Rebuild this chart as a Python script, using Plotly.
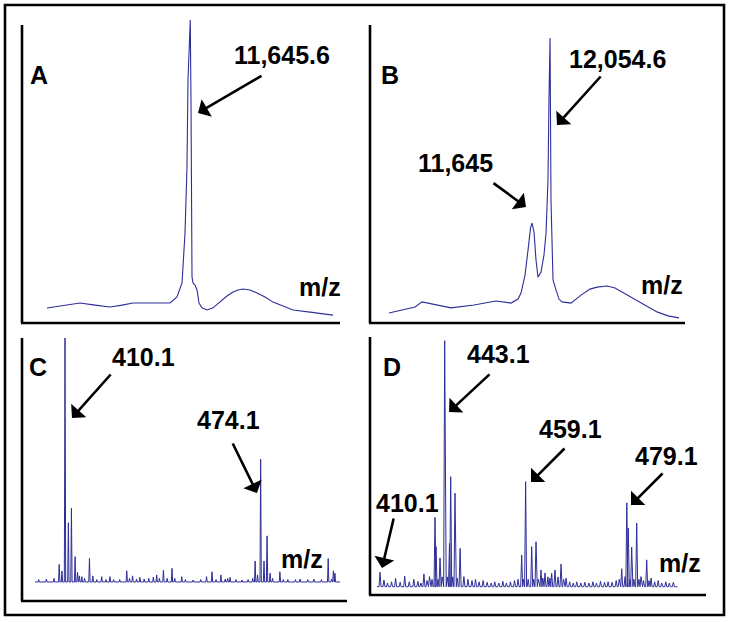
import plotly.graph_objects as go

# ---------------- data ----------------
# Panel A: intact protein spectrum
a_mz = [9393, 9597, 9912, 10148, 10384, 10572, 10745, 11013, 11327, 11437, 11516, 11563, 11594, 11610,
        11645.6, 11657, 11665, 11673, 11689, 11720, 11752, 11783, 11830, 11909, 12003, 12113, 12223,
        12318, 12396, 12475, 12585, 12695, 12821, 12947, 13104, 13261, 13528, 13890]
a_int = [4.95, 5.6, 6.6, 5.9, 5.3, 5.9, 6.6, 6.6, 6.6, 8.6, 13.2, 29.7, 51.5, 80.2,
         100, 73.6, 40.6, 15.2, 13.2, 12.5, 10.9, 6.6, 5.0, 4.3, 5.0, 6.9, 8.9,
         10.2, 10.9, 11.2, 10.9, 9.9, 8.6, 6.9, 5.6, 4.3, 3.6, 2.6]

# Panel B: modified protein spectrum
b_mz = [8390, 8732, 8982, 9141, 9346, 9801, 10324, 10825, 11166, 11326, 11394, 11485, 11553, 11610,
        11645, 11690, 11735, 11780, 11849, 11917, 11963, 12008, 12031, 12054.6, 12076, 12099, 12122,
        12190, 12258, 12327, 12531, 12759, 12964, 13123, 13351, 13533, 13737, 13919, 14124, 14329,
        14488, 14738, 14989]
b_int = [3.5, 4.6, 5.6, 7.4, 6.7, 5.3, 6.3, 7.7, 7.0, 8.4, 10.5, 16.8, 25.6, 33.3,
         35.1, 31.9, 22.1, 16.1, 17.9, 23.9, 31.6, 50.2, 79.3, 100, 43.2, 23.9, 15.1,
         11.6, 8.4, 7.4, 7.0, 9.8, 11.9, 12.6, 13.0, 12.3, 10.5, 8.8, 7.0, 5.3,
         3.9, 2.5, 1.8]

# Panel C: peptide spectrum (centroid peaks)
c_mz = [401.5, 404.0, 406.5, 408.2, 409.1, 410.1, 411.2, 412.2, 413.4, 414.2, 414.8, 415.6, 416.5,
        418.1, 419.2, 420.5, 422.1, 423.5, 424.8, 426.0, 428.0, 430.3, 431.2, 432.2, 433.5, 434.6,
        436.0, 437.5, 439.0, 440.1, 441.0, 442.3, 443.5, 445.1, 446.0, 448.3, 449.5, 452.0, 454.5,
        456.4, 458.2, 459.5, 461.1, 462.5, 463.3, 464.1, 466.0, 468.0, 470.0, 471.5, 472.3, 473.1,
        474.1, 475.2, 476.2, 477.2, 478.0, 480.4, 481.5, 483.0, 485.5, 487.0, 489.5, 491.5, 494.0,
        496.2, 497.3, 497.9, 498.4]
c_int = [1.0, 1.2, 1.5, 7.2, 4.5, 100, 24.3, 30.2, 10.4, 4.0, 2.5, 2.2, 1.5,
         9.7, 2.5, 1.0, 2.2, 1.0, 2.2, 1.0, 1.0, 4.6, 1.5, 2.5, 1.2, 1.9,
         1.2, 1.5, 2.0, 2.9, 1.5, 4.9, 1.5, 5.6, 1.5, 2.2, 1.0, 0.8, 1.0,
         2.2, 4.2, 1.0, 2.9, 1.2, 1.5, 1.9, 1.0, 0.8, 1.0, 1.5, 8.6, 2.9,
         50.3, 8.6, 18.9, 3.6, 1.5, 4.2, 1.0, 1.0, 1.0, 1.2, 1.0, 1.2, 1.0,
         9.6, 1.2, 4.6, 3.6]
c_span = [400.3, 500.1]

# Panel D: peptide spectrum (centroid peaks)
d_mz = [430.32, 431.1, 431.8, 432.6, 433.4, 434.3, 435.2, 436.1, 437.0, 437.8, 438.4, 439.0, 439.6,
        440.1, 440.6, 441.19, 441.39, 441.8, 442.18, 442.6, 443.1, 443.6, 444.05, 444.29, 444.7,
        445.14, 445.6, 446.15, 446.9, 447.7, 448.5, 449.2, 449.9, 450.7, 451.5, 452.3, 453.0, 453.8,
        454.6, 455.3, 456.1, 456.9, 457.6, 458.32, 458.7, 459.1, 459.6, 460.3, 460.7, 461.15, 461.6,
        462.14, 462.5, 462.93, 463.5, 463.9, 464.25, 464.9, 465.5, 466.1, 466.6, 467.1, 467.8, 468.5,
        469.2, 470.0, 470.8, 471.6, 472.4, 473.1, 473.9, 474.7, 475.4, 476.2, 477.0, 477.6, 478.09,
        478.75, 479.1, 479.39, 479.7, 480.06, 480.5, 481.05, 481.5, 481.9, 482.4, 483.03, 483.5,
        483.9, 484.6, 485.3, 486.0, 486.8, 487.5, 488.3]
d_int = [5.9, 2.7, 1.5, 2.0, 3.4, 1.8, 4.3, 2.0, 3.0, 2.2, 1.5, 5.2, 2.5,
         4.1, 3.0, 28.2, 16.3, 3.0, 11.7, 4.0, 100, 4.0, 17.6, 44.7, 4.0,
         38.0, 3.5, 15.6, 4.1, 3.0, 2.5, 3.0, 2.0, 2.5, 1.8, 1.5, 2.0, 1.5,
         2.2, 1.5, 2.0, 2.5, 3.0, 12.9, 3.0, 42.7, 3.0, 16.3, 3.0, 18.3, 3.0,
         6.8, 3.5, 5.6, 4.0, 3.5, 5.4, 6.8, 4.0, 9.2, 3.0, 3.5, 2.0, 1.5,
         2.0, 1.5, 1.8, 1.5, 2.0, 1.5, 2.2, 1.8, 2.0, 1.8, 2.5, 3.0, 7.3,
         4.1, 34.1, 23.9, 3.0, 16.1, 3.0, 25.9, 3.0, 4.1, 2.5, 10.9, 2.5,
         3.5, 2.0, 2.5, 1.5, 2.0, 1.5, 1.8]
d_span = [429.7, 489.1]

panel_labels = ["A", "B", "C", "D"]
peak_labels = {"A": ["11,645.6"], "B": ["12,054.6", "11,645"],
               "C": ["410.1", "474.1"], "D": ["443.1", "459.1", "479.1", "410.1"]}
axis_title = "m/z"

# ---------------- figure ----------------
W, H = 729, 622
LINE = "#2e2e98"
FONT = "Liberation Sans, Arial, sans-serif"


def px(x):
    return x / W


def py(y):
    return 1 - y / H


def sticks(mz, inten, span, w):
    xs, ys = [span[0]], [0]
    for m, h in sorted(zip(mz, inten)):
        xs += [m - w, m, m + w]
        ys += [0, h, 0]
    xs.append(span[1])
    ys.append(0)
    return xs, ys


fig = go.Figure()
fig.add_trace(go.Scatter(x=a_mz, y=a_int, mode="lines", line=dict(color=LINE, width=1.1),
                         xaxis="x", yaxis="y", hoverinfo="skip"))
fig.add_trace(go.Scatter(x=b_mz, y=b_int, mode="lines", line=dict(color=LINE, width=1.1),
                         xaxis="x2", yaxis="y2", hoverinfo="skip"))
cx, cy = sticks(c_mz, c_int, c_span, 0.22)
fig.add_trace(go.Scatter(x=cx, y=cy, mode="lines", line=dict(color=LINE, width=1),
                         xaxis="x3", yaxis="y3", hoverinfo="skip"))
dx, dy = sticks(d_mz, d_int, d_span, 0.2)
fig.add_trace(go.Scatter(x=dx, y=dy, mode="lines", line=dict(color=LINE, width=1),
                         xaxis="x4", yaxis="y4", hoverinfo="skip"))

# panel geometry in pixels: x0, x1, ytop, ybottom
geo = {
    "A": dict(dom=(22, 340, 20, 323), xr=[9000, 14000], yr=[0, 100]),
    "B": dict(dom=(370, 685, 25, 323), xr=[7958, 15125], yr=[0, 104.6]),
    "C": dict(dom=(22, 347, 338, 600), xr=[396.03, 502.35], yr=[-7.38, 100]),
    "D": dict(dom=(370, 706, 337, 595), xr=[428.34, 494.75], yr=[-3.37, 101.5]),
}
ax_common = dict(showline=False, showgrid=False, zeroline=False, showticklabels=False,
                 ticks="", fixedrange=True)
layout_axes = {}
for i, k in enumerate(panel_labels):
    g = geo[k]
    x0, x1, yt, yb = g["dom"]
    sx = "" if i == 0 else str(i + 1)
    layout_axes["xaxis" + sx] = dict(domain=[px(x0), px(x1)], range=g["xr"],
                                     anchor="y" + sx, **ax_common)
    layout_axes["yaxis" + sx] = dict(domain=[py(yb), py(yt)], range=g["yr"],
                                     anchor="x" + sx, **ax_common)

shapes = []
LW = 2.6
# outer frame
shapes.append(dict(type="rect", xref="paper", yref="paper", x0=px(5), x1=px(724), y0=py(615), y1=py(5),
                   line=dict(color="black", width=LW)))
# axis lines (y-axis top, x-axis end)
axlines = {"A": (22, 25, 323, 340), "B": (370, 25, 323, 685),
           "C": (22, 338, 601, 347), "D": (370, 337, 595, 706)}
for k, (x0, ytop, ybot, xend) in axlines.items():
    shapes.append(dict(type="line", xref="paper", yref="paper", x0=px(x0), x1=px(x0),
                       y0=py(ytop), y1=py(ybot), line=dict(color="black", width=LW)))
    shapes.append(dict(type="line", xref="paper", yref="paper", x0=px(x0 - 1), x1=px(xend),
                       y0=py(ybot), y1=py(ybot), line=dict(color="black", width=LW)))

ann = []


def text(t, x, y, size=25, bold=True):
    ann.append(dict(text=("<b>%s</b>" % t) if bold else t, x=px(x), y=py(y), xref="paper", yref="paper",
                    showarrow=False, xanchor="center", yanchor="middle",
                    font=dict(family=FONT, size=size, color="black")))


def arrow(hx, hy, tx, ty):
    ann.append(dict(text="", x=px(hx), y=py(hy), xref="paper", yref="paper", showarrow=True,
                    ax=tx - hx, ay=ty - hy, arrowhead=1, arrowsize=1.3, arrowwidth=2.6,
                    arrowcolor="black", standoff=0, startstandoff=0))


# panel letters
for k, (x, y) in zip(panel_labels, [(39, 75), (390, 75), (38, 367), (392, 367)]):
    text(k, x, y)
# m/z labels
for (x, y) in [(320, 287), (662, 285), (302, 559), (680, 563)]:
    text(axis_title, x, y)

# peak labels and arrows
text(peak_labels["A"][0], 282, 55)
arrow(198, 113, 263, 75)

text(peak_labels["B"][0], 617, 59)
arrow(557, 125, 602, 75)
text(peak_labels["B"][1], 455, 163)
arrow(526, 207, 492, 182)

text(peak_labels["C"][0], 143, 357)
arrow(72, 418, 112, 373)
text(peak_labels["C"][1], 228, 420)
arrow(257, 493, 232, 442)

text(peak_labels["D"][0], 498, 354)
arrow(449, 412, 491, 373)
text(peak_labels["D"][1], 570, 429)
arrow(531, 482, 566, 447)
text(peak_labels["D"][2], 666, 456)
arrow(631, 505, 664, 472)
text(peak_labels["D"][3], 407, 503)
arrow(382, 568, 394, 517)

fig.update_layout(width=W, height=H, margin=dict(l=0, r=0, t=0, b=0), showlegend=False,
                  paper_bgcolor="white", plot_bgcolor="white", shapes=shapes, annotations=ann,
                  **layout_axes)

fig.write_html("out.html", config={"displayModeBar": False},
               post_script="document.body.style.margin='0';document.body.style.padding='0';"
                           "document.body.style.overflow='hidden';")
